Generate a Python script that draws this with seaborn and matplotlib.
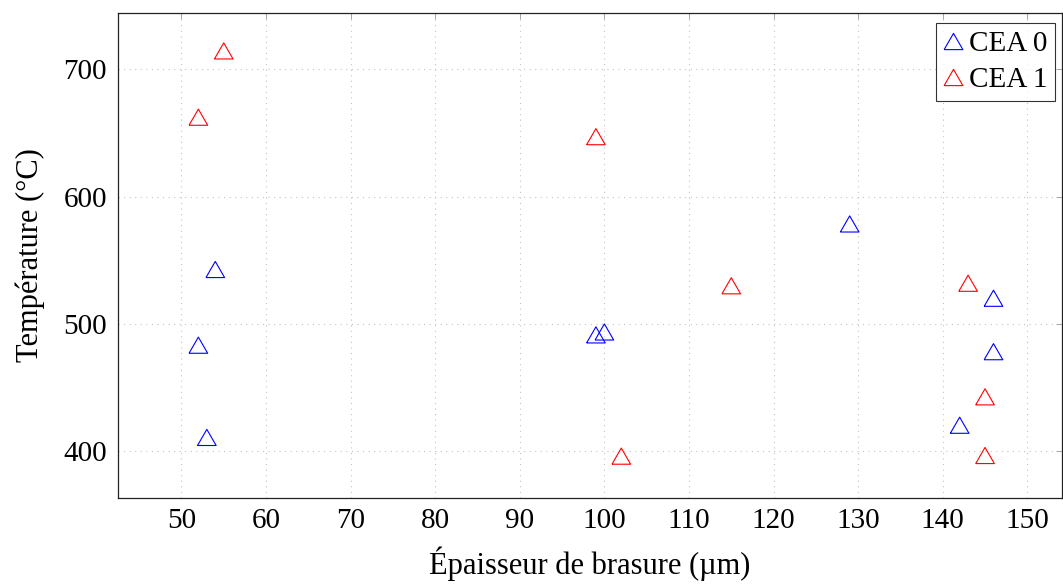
import matplotlib
matplotlib.use('Agg')
import matplotlib.pyplot as plt
from matplotlib.lines import Line2D
import pandas as pd
import seaborn as sns

# CEA 0 (bleu)
cea0_x = [54, 52, 53, 99, 100, 129, 146, 146, 142]
cea0_y = [542.8, 483.3, 410.8, 491.4, 493.7, 578.6, 520.2, 478.2, 420.4]
# CEA 1 (rouge)
cea1_x = [55, 52, 99, 115, 102, 143, 145, 145]
cea1_y = [714.6, 662.5, 647.2, 530, 396.1, 532, 442.7, 396.6]

series = ['CEA 0', 'CEA 1']
colors = {'CEA 0': 'blue', 'CEA 1': 'red'}

df = pd.concat([
    pd.DataFrame({'x': cea0_x, 'y': cea0_y, 'serie': 'CEA 0'}),
    pd.DataFrame({'x': cea1_x, 'y': cea1_y, 'serie': 'CEA 1'}),
])

# triangle equilateral centre sur sa boite
tri = [(-1, -0.866), (1, -0.866), (0, 0.866), (-1, -0.866)]

sns.set_style('white')
plt.rcParams['font.family'] = ['Liberation Serif', 'DejaVu Serif']
plt.rcParams['text.color'] = 'black'
plt.rcParams['axes.labelcolor'] = 'black'

fig = plt.figure(figsize=(10.63, 5.84), dpi=100)
ax = fig.add_axes([118 / 1063, 1 - 498 / 584, 944 / 1063, 485 / 584])

sns.scatterplot(data=df, x='x', y='y', hue='serie', palette=colors, marker=tri,
                s=180, linewidth=0.8, legend=False, ax=ax, zorder=3)
# contours seulement
for coll in ax.collections:
    fc = coll.get_facecolors()
    coll.set_edgecolors(fc)
    coll.set_facecolors('none')

ax.set_xlim(42.5, 154.1)
ax.set_ylim(363.2, 744.4)
ax.set_xticks(range(50, 151, 10))
ax.set_yticks([400, 500, 600, 700])
ax.grid(True, color='#c4c4c4', linestyle=(0, (1, 4)), linewidth=0.8)
ax.tick_params(direction='in', top=True, right=True, length=4.5, width=0.6,
               color='#999999', labelcolor='black', labelsize=21)
ax.tick_params(axis='x', pad=7)
ax.tick_params(axis='y', pad=8)
for sp in ax.spines.values():
    sp.set_color('#222222')
    sp.set_linewidth(0.9)

ax.set_xlabel('Épaisseur de brasure (µm)', fontsize=22, labelpad=9)
ax.set_ylabel('Température (°C)', fontsize=22, labelpad=13)

handles = [Line2D([], [], marker=tri, linestyle='none', markersize=13.5,
                  markerfacecolor='none', markeredgecolor=colors[s], markeredgewidth=0.8)
           for s in series]
leg = ax.legend(handles, series, loc='upper right', fontsize=21, frameon=True,
                fancybox=False, edgecolor='black', handletextpad=0.2,
                handlelength=0.7, borderpad=0.25, labelspacing=0.35,
                bbox_to_anchor=(1055 / 1063, 1 - 23 / 584),
                bbox_transform=fig.transFigure, borderaxespad=0)
leg.get_frame().set_linewidth(0.8)

fig.savefig('out.png', dpi=100)
